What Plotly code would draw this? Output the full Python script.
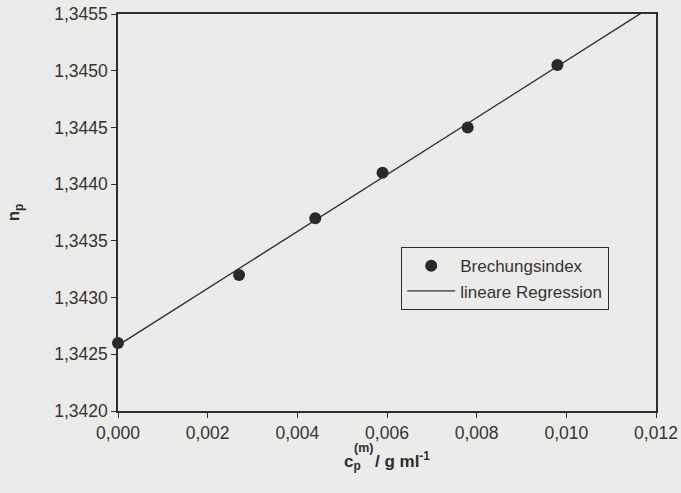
import numpy as np
import plotly.graph_objects as go

# Polymer concentration c_p^(m) in g/ml and measured refractive index n_p
conc = [0.0, 0.0027, 0.0044, 0.0059, 0.0078, 0.0098]
n_p = [1.3426, 1.3432, 1.3437, 1.3441, 1.3445, 1.34505]

x_ticks = [0.000, 0.002, 0.004, 0.006, 0.008, 0.010, 0.012]
y_ticks = [1.3420, 1.3425, 1.3430, 1.3435, 1.3440, 1.3445, 1.3450, 1.3455]

# Least-squares straight line through the measurements
slope, intercept = np.polyfit(conc, n_p, 1)
x_fit = np.array([0.0, 0.012])
y_fit = intercept + slope * x_fit

ink = "#302d2d"
paper = "#ebebea"
font_family = "Liberation Sans, Arial, sans-serif"
title_font = dict(family=font_family, size=17, color="#2e2c2c")

fig = go.Figure()
fig.add_trace(go.Scatter(
    x=conc, y=n_p, mode="markers", name="Brechungsindex",
    marker=dict(size=12, color="#2b2828"), cliponaxis=False,
))
fig.add_trace(go.Scatter(
    x=x_fit, y=y_fit, mode="lines", name="lineare Regression",
    line=dict(color=ink, width=1.4),
))

axis_common = dict(
    showline=True, linecolor=ink, linewidth=1.5, mirror=True,
    showgrid=False, zeroline=False, ticks="outside", ticklen=5,
    tickwidth=1.2, tickcolor=ink, ticklabeloverflow="allow",
    automargin=False,
    tickfont=dict(family=font_family, size=17.5, color="#363333"),
)

# x title: the "(m)" superscript is stacked above the subscript "p",
# so the title leaves a small gap after "p" and the label is placed on top
fig.update_xaxes(
    range=[0, 0.012], tickvals=x_ticks, tickformat=".3f",
    title=dict(
        text="<b>c<sub>p</sub>\u00a0\u00a0\u00a0/ g ml<sup>-1</sup></b>",
        font=title_font, standoff=13,
    ),
    **axis_common,
)
fig.add_annotation(
    text="<b>(m)</b>", xref="paper", yref="paper",
    x=0.457, y=-0.092, xanchor="center", yanchor="middle",
    showarrow=False, font=dict(family=font_family, size=12.5, color="#2e2c2c"),
)

fig.update_yaxes(
    range=[1.3420, 1.3455], tickvals=y_ticks, tickformat=".4f",
    title=dict(text="<b>n<sub>p</sub></b>", font=title_font, standoff=30),
    **axis_common,
)

fig.update_layout(
    width=681, height=493,
    margin=dict(l=118, r=25, t=14, b=82),
    paper_bgcolor=paper, plot_bgcolor=paper,
    separators=",.",
    showlegend=True,
    legend=dict(
        x=0.526, y=0.413, xanchor="left", yanchor="top",
        bgcolor=paper, bordercolor=ink, borderwidth=1.2,
        font=dict(family=font_family, size=17, color="#363333"),
        itemwidth=48, tracegroupgap=0,
    ),
)

fig.write_html("out.html")
